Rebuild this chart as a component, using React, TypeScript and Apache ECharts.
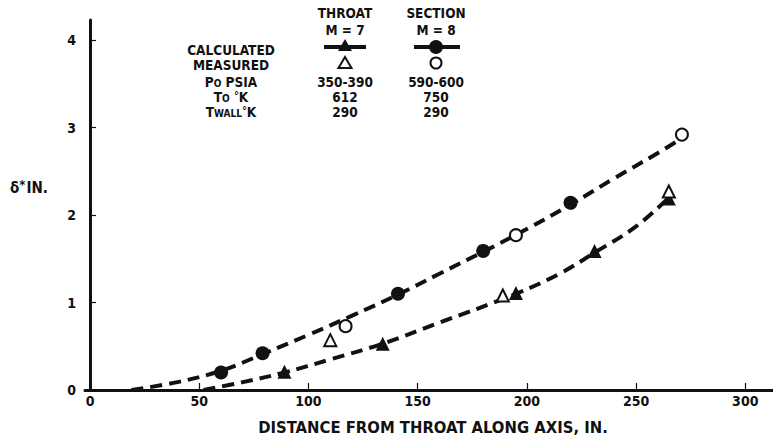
import React, { useEffect, useRef } from "react";
import * as echarts from "echarts";

const FONT = "'DejaVu Sans Condensed', 'DejaVu Sans', sans-serif";
const INK = "#111";

// tick labels
const xTicks = [0, 50, 100, 150, 200, 250, 300];
const yTicks = [0, 1, 2, 3, 4];

// SECTION M=8
const sectionCalculated: number[][] = [
  [60, 0.2],
  [79, 0.42],
  [141, 1.1],
  [180, 1.59],
  [220, 2.14],
];
const sectionMeasured: number[][] = [
  [117, 0.73],
  [195, 1.77],
  [271, 2.92],
];
const sectionCurve: number[][] = [
  [19, 0],
  [40, 0.09],
  [60, 0.22],
  [80, 0.42],
  [100, 0.63],
  [120, 0.85],
  [141, 1.09],
  [160, 1.33],
  [180, 1.58],
  [200, 1.84],
  [220, 2.12],
  [240, 2.42],
  [260, 2.71],
  [271, 2.88],
];

// THROAT M=7
const throatCalculated: number[][] = [
  [89, 0.21],
  [134, 0.53],
  [195, 1.11],
  [231, 1.59],
  [265, 2.19],
];
const throatMeasured: number[][] = [
  [110, 0.57],
  [189, 1.08],
  [265, 2.27],
];
const throatCurve: number[][] = [
  [52, 0],
  [70, 0.09],
  [89, 0.2],
  [110, 0.35],
  [134, 0.53],
  [160, 0.77],
  [195, 1.1],
  [215, 1.33],
  [231, 1.57],
  [250, 1.87],
  [265, 2.2],
];

const rowLabels = ["CALCULATED", "MEASURED", "P{s|O} PSIA", "T{s|O} {u|°}K", "T{s|WALL}{u|°}K"];
const headers = ["THROAT", "M = 7", "SECTION", "M = 8"];
const throatValues = ["350-390", "612", "290"];
const sectionValues = ["590-600", "750", "290"];

export default function App() {
  const ref = useRef<HTMLDivElement>(null);
  useEffect(() => {
    if (!ref.current) return;
    const chart = echarts.init(ref.current, null, { renderer: "svg" });

    const rich = {
      s: {
        fontFamily: FONT,
        fontSize: 10,
        fontWeight: "bold",
        lineHeight: 5,
        fill: INK,
        color: INK,
        verticalAlign: "bottom",
      },
      u: {
        fontFamily: FONT,
        fontSize: 11,
        fontWeight: "bold",
        lineHeight: 5,
        fill: INK,
        color: INK,
        verticalAlign: "top",
      },
    };

    const txt = (text: string, x: number, y: number, size = 13.5, align = "center") => ({
      type: "text",
      x,
      y,
      style: {
        text,
        fontFamily: FONT,
        fontSize: size,
        lineHeight: 13,
        fontWeight: "bold",
        fill: INK,
        textAlign: align,
        textVerticalAlign: "middle",
        rich,
      },
    });

    const graphics: any[] = [];
    const rowY = [50, 65, 81.5, 96.5, 111.5];
    rowLabels.forEach((r, i) => graphics.push(txt(r, 231, rowY[i])));
    // column headers
    graphics.push(txt(headers[0], 345, 13));
    graphics.push(txt(headers[1], 345, 30));
    graphics.push(txt(headers[2], 436, 13));
    graphics.push(txt(headers[3], 436, 30));
    [2, 3, 4].forEach((r, i) => {
      graphics.push(txt(throatValues[i], 345, rowY[r]));
      graphics.push(txt(sectionValues[i], 436, rowY[r]));
    });
    // legend symbols
    graphics.push({
      type: "line",
      shape: { x1: 324, y1: 47, x2: 366, y2: 47 },
      style: { stroke: INK, lineWidth: 4 },
    });
    graphics.push({
      type: "polygon",
      shape: { points: [[345, 39], [352, 51], [338, 51]] },
      style: { fill: INK },
    });
    graphics.push({
      type: "line",
      shape: { x1: 414, y1: 47, x2: 460, y2: 47 },
      style: { stroke: INK, lineWidth: 4 },
    });
    graphics.push({
      type: "circle",
      shape: { cx: 436, cy: 47, r: 7 },
      style: { fill: INK },
    });
    graphics.push({
      type: "polygon",
      shape: { points: [[345, 57], [351.5, 68], [338.5, 68]] },
      style: { fill: "#fff", stroke: INK, lineWidth: 2 },
    });
    graphics.push({
      type: "circle",
      shape: { cx: 436, cy: 63, r: 5.5 },
      style: { fill: "#fff", stroke: INK, lineWidth: 2 },
    });
    // y axis name
    graphics.push({
      type: "text",
      x: 10,
      y: 188,
      style: {
        text: "δ{u|*}IN.",
        fontFamily: FONT,
        fontSize: 15,
        fontWeight: "bold",
        fill: INK,
        textAlign: "left",
        textVerticalAlign: "middle",
        rich: {
          u: {
            fontFamily: FONT,
            fontSize: 13,
            fontWeight: "bold",
            fill: INK,
            color: INK,
            padding: [0, 1, 8, 0],
          },
        },
      },
    });

    const dashed = (data: number[][]) => ({
      type: "line",
      data,
      smooth: 0.4,
      showSymbol: false,
      symbol: "none",
      lineStyle: { color: INK, width: 4, type: [12, 7], opacity: 1 },
      z: 2,
      silent: true,
    });

    const labelStyle = { color: INK, fontFamily: FONT, fontSize: 14, fontWeight: "bold" };

    chart.setOption({
      animation: false,
      backgroundColor: "#fff",
      textStyle: { fontFamily: FONT },
      grid: { left: 85, right: 0, top: 20, bottom: 49, containLabel: false },
      xAxis: {
        type: "value",
        min: -2.3,
        max: 312.7,
        name: "DISTANCE FROM THROAT ALONG AXIS, IN.",
        nameLocation: "middle",
        nameGap: 29,
        nameTextStyle: { fontFamily: FONT, fontSize: 16.5, fontWeight: "bold", color: INK, padding: [0, 0, 0, 8] },
        axisLine: { lineStyle: { color: INK, width: 3 } },
        axisTick: { inside: true, length: 7, lineStyle: { color: INK, width: 1.2 }, customValues: xTicks },
        axisLabel: { ...labelStyle, margin: 4, customValues: xTicks },
        splitLine: { show: false },
      },
      yAxis: {
        type: "value",
        min: 0,
        max: 4.23,
        axisLine: { show: true, lineStyle: { color: INK, width: 3 } },
        axisTick: { show: true, inside: true, length: 6, lineStyle: { color: INK, width: 1.2 }, customValues: yTicks },
        axisLabel: { ...labelStyle, margin: 9, customValues: yTicks },
        splitLine: { show: false },
      },
      graphic: graphics,
      series: [
        dashed(sectionCurve),
        dashed(throatCurve),
        {
          type: "scatter",
          data: sectionCalculated,
          symbol: "circle",
          symbolSize: 14,
          itemStyle: { color: INK, opacity: 1 },
          z: 3,
        },
        {
          type: "scatter",
          data: throatCalculated,
          symbol: "triangle",
          symbolSize: 14,
          itemStyle: { color: INK, opacity: 1 },
          z: 3,
        },
        {
          type: "scatter",
          data: sectionMeasured,
          symbol: "circle",
          symbolSize: 12,
          itemStyle: { color: "#fff", borderColor: INK, borderWidth: 2, opacity: 1 },
          z: 4,
        },
        {
          type: "scatter",
          data: throatMeasured,
          symbol: "triangle",
          symbolSize: 12,
          itemStyle: { color: "#fff", borderColor: INK, borderWidth: 2, opacity: 1 },
          z: 4,
        },
      ],
    });
    return () => chart.dispose();
  }, []);
  return <div ref={ref} style={{ width: 773, height: 441, position: "absolute", left: 0, top: 0 }} />;
}
